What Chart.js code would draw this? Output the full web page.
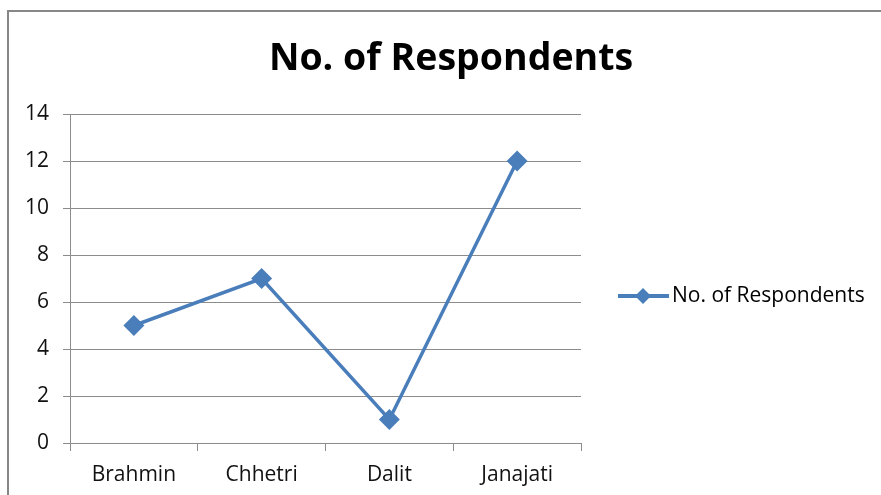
<!DOCTYPE html>
<html>
<head>
<meta charset="utf-8">
<script src="https://cdn.jsdelivr.net/npm/chart.js@4"></script>
<style>
    html, body { margin: 0; padding: 0; background: #ffffff; }
    #wrap { width: 881px; height: 495px; }
</style>
</head>
<body>
<div id="wrap"><canvas id="respondentsChart" width="881" height="495"></canvas></div>
<script>
const castes = ['Brahmin', 'Chhetri', 'Dalit', 'Janajati'];
const respondents = [5, 7, 1, 12];
const yTicks = [0, 2, 4, 6, 8, 10, 12, 14];
const chartTitle = 'No. of Respondents';

const lineColor = '#4a7ebb';
const gridColor = '#8c8c8c';
const fontFamily = '"Open Sans", Lato, sans-serif';

// frame, title and legend are painted by hand, Excel style
const decorations = {
    id: 'decorations',
    beforeDraw(chart) {
        const ctx = chart.ctx;
        ctx.save();
        ctx.strokeStyle = '#878787';
        ctx.lineWidth = 2;
        ctx.strokeRect(8, 11, 1000, 1000);
        ctx.restore();
    },
    afterDraw(chart) {
        const ctx = chart.ctx;
        ctx.save();
        ctx.fillStyle = '#000000';
        ctx.font = 'bold 37.5px ' + fontFamily;
        ctx.textAlign = 'center';
        ctx.textBaseline = 'middle';
        ctx.fillText(chartTitle, 451, 59);

        const ds = chart.data.datasets[0];
        const y = 296;
        ctx.strokeStyle = ds.borderColor;
        ctx.lineWidth = 4;
        ctx.beginPath();
        ctx.moveTo(618, y);
        ctx.lineTo(669, y);
        ctx.stroke();
        ctx.fillStyle = ds.borderColor;
        ctx.beginPath();
        ctx.moveTo(643, y - 8);
        ctx.lineTo(651, y);
        ctx.lineTo(643, y + 8);
        ctx.lineTo(635, y);
        ctx.closePath();
        ctx.fill();

        ctx.fillStyle = '#000000';
        ctx.font = '21px ' + fontFamily;
        ctx.textAlign = 'left';
        ctx.fillText(ds.label, 672, y);
        ctx.restore();
    }
};

new Chart(document.getElementById('respondentsChart'), {
    type: 'line',
    data: {
        labels: castes,
        datasets: [{
            label: chartTitle,
            data: respondents,
            borderColor: lineColor,
            backgroundColor: lineColor,
            borderWidth: 3.5,
            pointStyle: 'rectRot',
            pointRadius: 8,
            pointHoverRadius: 8,
            tension: 0
        }]
    },
    options: {
        responsive: false,
        animation: false,
        layout: {
            padding: { top: 114, right: 300, bottom: 0, left: 0 }
        },
        plugins: {
            legend: { display: false },
            title: { display: false },
            tooltip: { enabled: false }
        },
        scales: {
            x: {
                offset: true,
                afterFit: (scale) => { scale.height = 52; },
                grid: {
                    offset: true,
                    drawOnChartArea: false,
                    drawTicks: true,
                    tickLength: 8,
                    color: gridColor
                },
                border: { color: gridColor },
                ticks: {
                    color: '#111111',
                    padding: 11,
                    font: { family: fontFamily, size: 21 }
                }
            },
            y: {
                min: 0,
                max: 14,
                afterFit: (scale) => { scale.width = 70; },
                afterBuildTicks: (scale) => {
                    scale.ticks = yTicks.map(v => ({ value: v }));
                },
                grid: {
                    color: gridColor,
                    tickLength: 7
                },
                border: { color: gridColor },
                ticks: {
                    color: '#111111',
                    padding: 14,
                    font: { family: fontFamily, size: 21 }
                }
            }
        }
    },
    plugins: [decorations]
});
</script>
</body>
</html>
